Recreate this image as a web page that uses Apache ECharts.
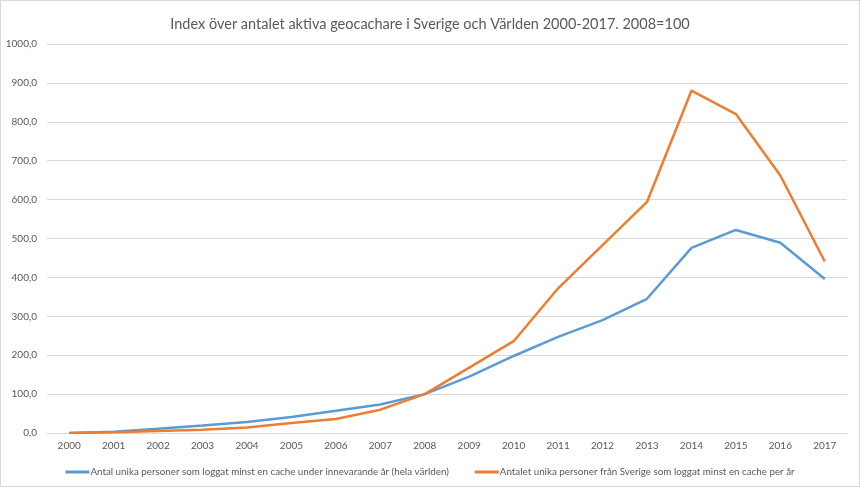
<!DOCTYPE html>
<html><head><meta charset="utf-8">
<script src="https://cdn.jsdelivr.net/npm/echarts@6/dist/echarts.min.js"></script>
<style>html,body{margin:0;padding:0;background:#fff}#c{width:860px;height:487px;box-sizing:border-box;border:1px solid #d9d9d9}</style>
</head><body><div id="c"></div>
<script>
const years = ['2000','2001','2002','2003','2004','2005','2006','2007','2008','2009','2010','2011','2012','2013','2014','2015','2016','2017'];
const worldName = 'Antal unika personer som loggat minst en cache under innevarande år (hela världen)';
const swedenName = 'Antalet unika personer från Sverige som loggat minst en cache per år';
const worldValues = [0, 3.5, 11, 19, 28, 41, 57, 73.5, 100, 145, 198, 247, 290, 345, 476, 522, 489, 396];
const swedenValues = [0, 2, 5, 8.5, 14, 26, 36, 60, 100, 168, 236, 372, 483, 594, 880, 820, 662, 441];
const yTicks = {min: 0, max: 1000, interval: 100};
const font = 'Lato, sans-serif';
const chart = echarts.init(document.getElementById('c'));
chart.setOption({
  animation: false,
  backgroundColor: '#fff',
  title: {text: 'Index över antalet aktiva geocachare i Sverige och Världen 2000-2017. 2008=100', left: 'center', top: 11,
    textStyle: {fontFamily: font, fontSize: 14.5, fontWeight: 'normal', color: '#595959'}},
  legend: {top: 461, left: 'center', itemWidth: 24, itemHeight: 3, itemGap: 26, icon: 'rect',
    textStyle: {fontFamily: font, fontSize: 9.8, color: '#595959', padding: [0,0,0,-4]},
    data: [worldName, swedenName]},
  grid: {left: 46, right: 12, top: 43, bottom: 53, containLabel: false},
  xAxis: {type: 'category', data: years, boundaryGap: true,
    axisLine: {lineStyle: {color: '#d9d9d9'}}, axisTick: {show: false},
    axisLabel: {fontFamily: font, fontSize: 10, color: '#595959', margin: 8}},
  yAxis: {type: 'value', min: yTicks.min, max: yTicks.max, interval: yTicks.interval,
    axisLine: {show: false}, axisTick: {show: false},
    splitLine: {lineStyle: {color: '#d9d9d9'}},
    axisLabel: {fontFamily: font, fontSize: 10, color: '#595959', margin: 10,
      formatter: v => v.toFixed(1).replace('.', ',')}},
  series: [
    {name: worldName, type: 'line', data: worldValues, symbol: 'none', lineStyle: {width: 2.5, color: '#5B9BD5'}, itemStyle: {color: '#5B9BD5'}},
    {name: swedenName, type: 'line', data: swedenValues, symbol: 'none', lineStyle: {width: 2.5, color: '#ED7D31'}, itemStyle: {color: '#ED7D31'}}
  ]
});
</script></body></html>
